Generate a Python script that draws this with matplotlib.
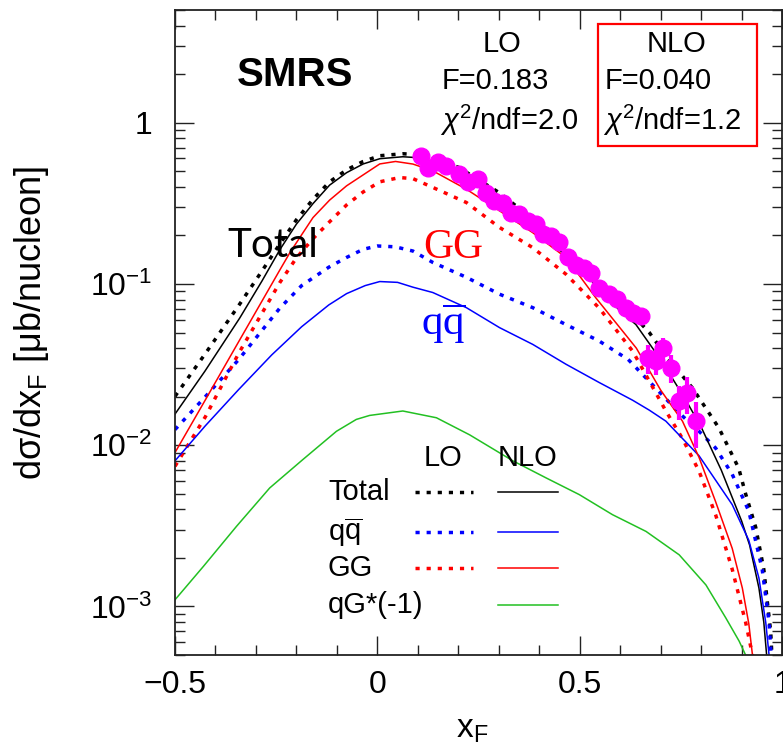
import matplotlib
matplotlib.use("Agg")
import matplotlib.pyplot as plt
from matplotlib.ticker import FixedLocator, FixedFormatter, MultipleLocator, LogLocator, NullFormatter
from matplotlib.lines import Line2D
from matplotlib.patches import Rectangle

plt.rcParams['font.family'] = ['Liberation Sans', 'DejaVu Sans']
plt.rcParams['mathtext.fontset'] = 'custom'
plt.rcParams['mathtext.rm'] = 'Liberation Serif'
plt.rcParams['mathtext.sf'] = 'Liberation Sans'
plt.rcParams['mathtext.it'] = 'Liberation Sans:italic'
plt.rcParams['mathtext.bf'] = 'Liberation Sans:bold'

# ---------------- data ----------------
# Total, LO (dotted)
tot_lo_x = [-0.5, -0.426, -0.340, -0.285, -0.241, -0.2, -0.159, -0.118, -0.076, -0.035, 0.006,
            0.063, 0.105, 0.2, 0.3, 0.4, 0.5, 0.6, 0.672, 0.72, 0.779, 0.844, 0.893, 0.91,
            0.935, 0.955, 0.965, 0.972, 0.977, 0.980]
tot_lo_y = [0.0201, 0.0367, 0.0751, 0.1204, 0.177, 0.25, 0.335, 0.43, 0.51, 0.575, 0.624,
            0.642, 0.633, 0.53, 0.37, 0.235, 0.14, 0.078, 0.050, 0.034, 0.0226, 0.0128, 0.0072, 0.0050,
            0.0031, 0.0017, 0.0010, 0.0007, 0.0004, 0.0003]
# Total, NLO (solid)
tot_nlo_x = [-0.5, -0.426, -0.340, -0.285, -0.241, -0.2, -0.159, -0.118, -0.076, -0.035, 0.006,
             0.063, 0.105, 0.2, 0.3, 0.4, 0.5, 0.6, 0.639, 0.7, 0.76, 0.8, 0.85, 0.9, 0.92,
             0.943, 0.955, 0.962, 0.966]
tot_nlo_y = [0.0156, 0.0288, 0.0615, 0.1044, 0.163, 0.235, 0.315, 0.41, 0.49, 0.555, 0.598,
             0.615, 0.606, 0.49, 0.33, 0.21, 0.125, 0.068, 0.056, 0.034, 0.0195, 0.0130, 0.0070, 0.0034, 0.0024,
             0.0013, 0.0008, 0.0005, 0.0003]
# qqbar, LO
qq_lo_x = [-0.5, -0.425, -0.343, -0.241, -0.187, -0.12, -0.076, -0.035, 0.0, 0.044, 0.088, 0.137,
           0.22, 0.302, 0.384, 0.466, 0.548, 0.62, 0.7, 0.75, 0.795, 0.836, 0.877, 0.918,
           0.951, 0.968, 0.973, 0.976]
qq_lo_y = [0.0125, 0.0200, 0.0339, 0.0708, 0.0977, 0.127, 0.146, 0.164, 0.172, 0.170, 0.160, 0.136,
           0.110, 0.0864, 0.0713, 0.056, 0.0443, 0.034, 0.021, 0.0155, 0.0122, 0.0096, 0.0066, 0.0039,
           0.0017, 0.0008, 0.0005, 0.0003]
# qqbar, NLO
qq_nlo_x = [-0.5, -0.425, -0.343, -0.261, -0.187, -0.120, -0.076, -0.03, 0.006, 0.05, 0.088,
            0.137, 0.22, 0.302, 0.384, 0.466, 0.548, 0.631, 0.672, 0.713, 0.795, 0.877, 0.918,
            0.943, 0.96, 0.968, 0.972]
qq_nlo_y = [0.0080, 0.0132, 0.0221, 0.0363, 0.0543, 0.0741, 0.0871, 0.0977, 0.1035, 0.1023, 0.0955,
            0.0885, 0.0713, 0.0536, 0.0422, 0.0318, 0.0245, 0.019, 0.0165, 0.0141, 0.0086, 0.00428,
            0.00257, 0.0015, 0.00079, 0.0005, 0.0003]
# GG, LO
gg_lo_x = [-0.5, -0.425, -0.343, -0.241, -0.2, -0.159, -0.118, -0.076, -0.035, 0.006, 0.055, 0.088,
           0.137, 0.22, 0.302, 0.384, 0.466, 0.548, 0.631, 0.672, 0.713, 0.754, 0.795, 0.836,
           0.877, 0.91, 0.927, 0.934]
gg_lo_y = [0.0074, 0.0150, 0.0370, 0.102, 0.145, 0.191, 0.243, 0.309, 0.372, 0.43, 0.457, 0.45,
           0.397, 0.32, 0.224, 0.168, 0.115, 0.071, 0.0383, 0.025, 0.0163, 0.011, 0.0069, 0.0037,
           0.0017, 0.0008, 0.0005, 0.0003]
# GG, NLO
gg_nlo_x = [-0.5, -0.425, -0.343, -0.241, -0.215, -0.159, -0.118, -0.076, 0.006, 0.045, 0.088,
            0.137, 0.22, 0.302, 0.384, 0.466, 0.54, 0.64, 0.7, 0.754, 0.795, 0.836, 0.877,
            0.902, 0.918, 0.927, 0.932]
gg_nlo_y = [0.0090, 0.0191, 0.0437, 0.122, 0.158, 0.258, 0.331, 0.406, 0.555, 0.575, 0.554,
            0.503, 0.387, 0.284, 0.208, 0.146, 0.082, 0.040, 0.022, 0.0141, 0.0084, 0.00446, 0.00229,
            0.0013, 0.00078, 0.0005, 0.0003]
# qG * (-1), NLO
qg_nlo_x = [-0.5, -0.430, -0.348, -0.266, -0.184, -0.101, -0.052, -0.019, 0.063, 0.146, 0.228,
            0.335, 0.417, 0.499, 0.581, 0.664, 0.746, 0.812, 0.861, 0.894, 0.910, 0.916]
qg_nlo_y = [0.0011, 0.00177, 0.00314, 0.00543, 0.00815, 0.0122, 0.01445, 0.0153, 0.0163, 0.0148, 0.0116,
            0.0080, 0.00627, 0.00494, 0.00371, 0.00292, 0.00209, 0.00136, 0.00085, 0.00061, 0.0005, 0.0004]
# measured points
data_x = [0.108, 0.125, 0.150, 0.170, 0.203, 0.223, 0.248, 0.269, 0.289, 0.310, 0.331, 0.351,
          0.372, 0.392, 0.409, 0.429, 0.450, 0.470, 0.491, 0.511, 0.528, 0.548, 0.573, 0.593,
          0.614, 0.631, 0.651, 0.668, 0.688, 0.705, 0.725, 0.746, 0.766, 0.787]
data_y = [0.624, 0.527, 0.567, 0.541, 0.480, 0.426, 0.447, 0.369, 0.328, 0.320, 0.277, 0.271,
          0.246, 0.235, 0.204, 0.199, 0.181, 0.146, 0.132, 0.126, 0.117, 0.0948, 0.0862, 0.0803,
          0.0713, 0.0663, 0.0632, 0.0348, 0.0333, 0.0402, 0.0302, 0.0188, 0.0211, 0.0141]
data_err = [0.02, 0.02, 0.02, 0.02, 0.02, 0.02, 0.02, 0.015, 0.015, 0.015, 0.01, 0.01,
            0.01, 0.01, 0.008, 0.008, 0.008, 0.006, 0.006, 0.006, 0.005, 0.004, 0.004, 0.004,
            0.003, 0.003, 0.003, 0.007, 0.006, 0.006, 0.006, 0.0045, 0.0055, 0.0045]

ytick_vals = [1e-3, 1e-2, 1e-1, 1.0]
ytick_labels = [r'$\mathdefault{10^{-3}}$', r'$\mathdefault{10^{-2}}$', r'$\mathdefault{10^{-1}}$', '1']
xtick_vals = [-0.5, 0.0, 0.5, 1.0]
xtick_labels = ['\u22120.5', '0', '0.5', '1']

# ---------------- figure ----------------
W, H = 783, 752
fig = plt.figure(figsize=(W / 100, H / 100), dpi=100)
ax = fig.add_axes([175 / W, 97 / H, 607 / W, 645 / H])

dot = (0, (1.2, 2.0))
lw_lo = 2.5
lw_nlo = 1.1
BLUE, RED, GREEN, MAG = '#0000ff', '#ff0000', '#22c022', '#ff00ff'

ax.plot(tot_lo_x, tot_lo_y, color='black', lw=lw_lo, ls=dot)
ax.plot(qq_lo_x, qq_lo_y, color=BLUE, lw=lw_lo, ls=dot)
ax.plot(gg_lo_x, gg_lo_y, color=RED, lw=lw_lo, ls=dot)
ax.plot(tot_nlo_x, tot_nlo_y, color='black', lw=lw_nlo)
ax.plot(qq_nlo_x, qq_nlo_y, color=BLUE, lw=lw_nlo)
ax.plot(gg_nlo_x, gg_nlo_y, color=RED, lw=lw_nlo)
ax.plot(qg_nlo_x, qg_nlo_y, color=GREEN, lw=lw_nlo)

ax.errorbar(data_x, data_y, yerr=data_err, fmt='o', color=MAG, ms=12, elinewidth=3, capsize=0, zorder=5)

ax.set_yscale('log')
ax.set_xlim(-0.5, 1.0)
ax.set_ylim(5e-4, 5)

ax.yaxis.set_major_locator(FixedLocator(ytick_vals))
ax.yaxis.set_major_formatter(FixedFormatter(ytick_labels))
ax.yaxis.set_minor_locator(LogLocator(base=10, subs=[2, 3, 4, 5, 6, 7, 8, 9], numticks=20))
ax.yaxis.set_minor_formatter(NullFormatter())
ax.xaxis.set_major_locator(FixedLocator(xtick_vals))
ax.xaxis.set_major_formatter(FixedFormatter(xtick_labels))
ax.xaxis.set_minor_locator(MultipleLocator(0.1))

ax.tick_params(which='both', direction='in', top=True, right=True, width=1.0, color='#222222')
ax.tick_params(which='major', length=14)
ax.tick_params(which='minor', length=7)
ax.tick_params(axis='y', which='major', labelsize=23, pad=16)
ax.tick_params(axis='x', which='major', labelsize=23, pad=11)
for s in ax.spines.values():
    s.set_linewidth(1.3)
    s.set_color('#222222')

ax.set_xlabel('x$_{\\mathsf{F}}$', fontsize=24)
ax.xaxis.set_label_coords(0.49, -0.092)
ax.set_ylabel('d\u03c3/dx$_{\\mathsf{F}}$ [\u03bcb/nucleon]', fontsize=26)
ax.yaxis.set_label_coords(-0.205, 0.515)

# ---------------- texts ----------------
T = ax.transAxes
ax.text(0.102, 0.899, 'SMRS', transform=T, fontsize=29, fontweight='bold', va='center', ha='left')
ax.text(0.5387, 0.947, 'LO', transform=T, fontsize=21, ha='center', va='center')
ax.text(0.44, 0.890, 'F=0.183', transform=T, fontsize=21, ha='left', va='center')
ax.text(0.4366, 0.829, r'$\chi^{\mathsf{2}}$/ndf=2.0', transform=T, fontsize=21, ha='left', va='center')
ax.text(0.827, 0.947, 'NLO', transform=T, fontsize=21, ha='center', va='center')
ax.text(0.708, 0.890, 'F=0.040', transform=T, fontsize=21, ha='left', va='center')
ax.text(0.705, 0.829, r'$\chi^{\mathsf{2}}$/ndf=1.2', transform=T, fontsize=21, ha='left', va='center')
ax.add_patch(Rectangle((0.697, 0.789), 0.262, 0.189, transform=T, fill=False, ec=RED, lw=1.6))

ax.text(0.0857, 0.617, 'Total', transform=T, fontsize=29, family=['Lato', 'DejaVu Sans'],
        ha='left', va='baseline', color='black')
ax.text(0.4086, 0.6155, 'GG', transform=T, fontsize=30, family=['Liberation Serif', 'DejaVu Serif'],
        ha='left', va='baseline', color=RED)
ax.text(0.406, 0.496, r'$\mathrm{q}\overline{\mathrm{q}}$', transform=T, fontsize=31,
        ha='left', va='baseline', color=BLUE)

# ---------------- legend ----------------
ax.text(0.4415, 0.3054, 'LO', transform=T, fontsize=21, ha='center', va='center')
ax.text(0.5815, 0.3054, 'NLO', transform=T, fontsize=21, ha='center', va='center')
rows = [('Total', 'black', True, 0.2527),
        (r'$\mathsf{q}\overline{\mathsf{q}}$', BLUE, True, 0.1907),
        ('GG', RED, True, 0.1349),
        ('qG*(-1)', GREEN, False, 0.0775)]
for lab, col, has_lo, fy in rows:
    ax.text(0.252, fy, lab, transform=T, fontsize=21, ha='left', va='center')
    if has_lo:
        ax.add_line(Line2D([0.3954, 0.4909], [fy, fy], transform=T, color=col, lw=lw_lo, ls=dot))
    ax.add_line(Line2D([0.532, 0.631], [fy, fy], transform=T, color=col, lw=lw_nlo))

fig.savefig('out.png', dpi=100)
